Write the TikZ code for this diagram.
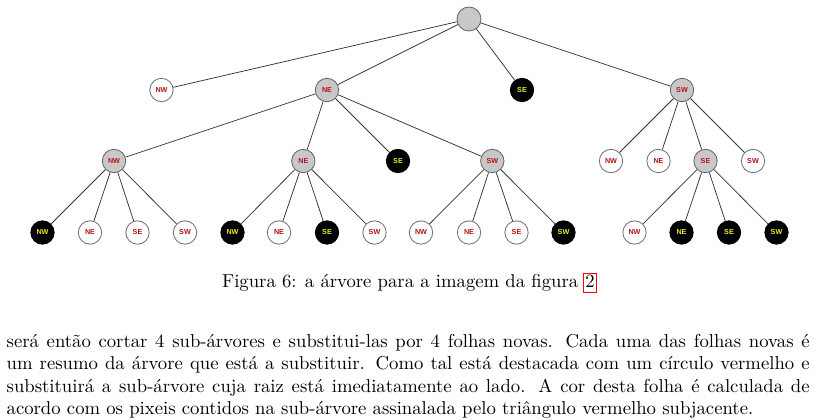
\documentclass[tikz,border=0pt]{standalone}
\usepackage{fontspec}
\newfontfamily\labelfont{Liberation Sans}
\usetikzlibrary{positioning}
\definecolor{nodegray}{RGB}{200,200,200}
\definecolor{labelred}{RGB}{180,20,20}
\definecolor{labelyellow}{RGB}{235,235,40}
\tikzstyle{node_base} = [circle, inner sep=0pt, minimum size=12.5pt, line width=0.45pt, font=\labelfont\bfseries\fontsize{3.85}{4.5}\selectfont]
\tikzstyle{node_gray} = [node_base, draw=black!60, fill=nodegray, text=labelred]
\tikzstyle{node_white} = [node_base, draw=black!55, fill=white, text=labelred]
\tikzstyle{node_black} = [node_base, draw=black, fill=black, text=labelyellow]
\tikzstyle{node_root} = [node_gray, minimum size=12.85pt]
\tikzstyle{edge_normal} = [draw=black!80, line width=0.4pt]
\tikzstyle{link_box} = [draw=red, line width=0.55pt, inner xsep=1pt, inner ysep=1pt, text height=6.5pt, text depth=1.7pt]

\begin{document}
\begin{tikzpicture}[x=0.535pt, y=-0.535pt]
\useasboundingbox (0,0) rectangle (816,420);

\node (R) at (469,19) [node_root] {};

\node (nw) at (161.5,90) [node_white] {NW};
\node (ne) at (327,90) [node_gray] {NE};
\node (se) at (522,90) [node_black] {SE};
\node (sw) at (682,90) [node_gray] {SW};

\node (ne_nw) at (114,161) [node_gray] {NW};
\node (ne_ne) at (303.3,161) [node_gray] {NE};
\node (ne_se) at (398,161) [node_black] {SE};
\node (ne_sw) at (492.3,161) [node_gray] {SW};

\node (sw_nw) at (611,161) [node_white] {NW};
\node (sw_ne) at (658.5,161) [node_white] {NE};
\node (sw_se) at (705.5,161) [node_gray] {SE};
\node (sw_sw) at (753,161) [node_white] {SW};

\node (ne_nw_nw) at (42.5,232.5) [node_black] {NW};
\node (ne_nw_ne) at (90,232.5) [node_white] {NE};
\node (ne_nw_se) at (137.5,232.5) [node_white] {SE};
\node (ne_nw_sw) at (185,232.5) [node_white] {SW};

\node (ne_ne_nw) at (232.5,232.5) [node_black] {NW};
\node (ne_ne_ne) at (279,232.5) [node_white] {NE};
\node (ne_ne_se) at (327,232.5) [node_black] {SE};
\node (ne_ne_sw) at (374.5,232.5) [node_white] {SW};

\node (ne_sw_nw) at (421,232.5) [node_white] {NW};
\node (ne_sw_ne) at (469,232.5) [node_white] {NE};
\node (ne_sw_se) at (516.5,232.5) [node_white] {SE};
\node (ne_sw_sw) at (563.5,232.5) [node_black] {SW};

\node (sw_se_nw) at (634.5,232.5) [node_white] {NW};
\node (sw_se_ne) at (681.5,232.5) [node_black] {NE};
\node (sw_se_se) at (729,232.5) [node_black] {SE};
\node (sw_se_sw) at (776.5,232.5) [node_black] {SW};

\draw[edge_normal] (R)--(nw) (R)--(ne) (R)--(se) (R)--(sw);
\draw[edge_normal] (ne)--(ne_nw) (ne)--(ne_ne) (ne)--(ne_se) (ne)--(ne_sw);
\draw[edge_normal] (sw)--(sw_nw) (sw)--(sw_ne) (sw)--(sw_se) (sw)--(sw_sw);
\draw[edge_normal] (ne_nw)--(ne_nw_nw) (ne_nw)--(ne_nw_ne) (ne_nw)--(ne_nw_se) (ne_nw)--(ne_nw_sw);
\draw[edge_normal] (ne_ne)--(ne_ne_nw) (ne_ne)--(ne_ne_ne) (ne_ne)--(ne_ne_se) (ne_ne)--(ne_ne_sw);
\draw[edge_normal] (ne_sw)--(ne_sw_nw) (ne_sw)--(ne_sw_ne) (ne_sw)--(ne_sw_se) (ne_sw)--(ne_sw_sw);
\draw[edge_normal] (sw_se)--(sw_se_nw) (sw_se)--(sw_se_ne) (sw_se)--(sw_se_se) (sw_se)--(sw_se_sw);

% legenda
\node (caption) at (221.7,287.3) [anchor=base west, inner sep=0pt] {Figura 6: a árvore para a imagem da figura};
\node (figref) at ([xshift=2.33pt]caption.base east) [link_box, anchor=base west] {2};

% texto
\node (text) at (6.3,347.3) [anchor=base west, inner sep=0pt, text width=429.6pt, align=justify] {\hyphenpenalty=10000
será então cortar 4 sub-árvores e substitui-las por 4 folhas novas. Cada uma das folhas novas é\linebreak
um resumo da árvore que está a substituir. Como tal está destacada com um círculo vermelho e\linebreak
substituirá a sub-árvore cuja raiz está imediatamente ao lado. A cor desta folha é calculada de\linebreak
acordo com os pixeis contidos na sub-árvore assinalada pelo triângulo vermelho subjacente.};
\end{tikzpicture}
\end{document}
